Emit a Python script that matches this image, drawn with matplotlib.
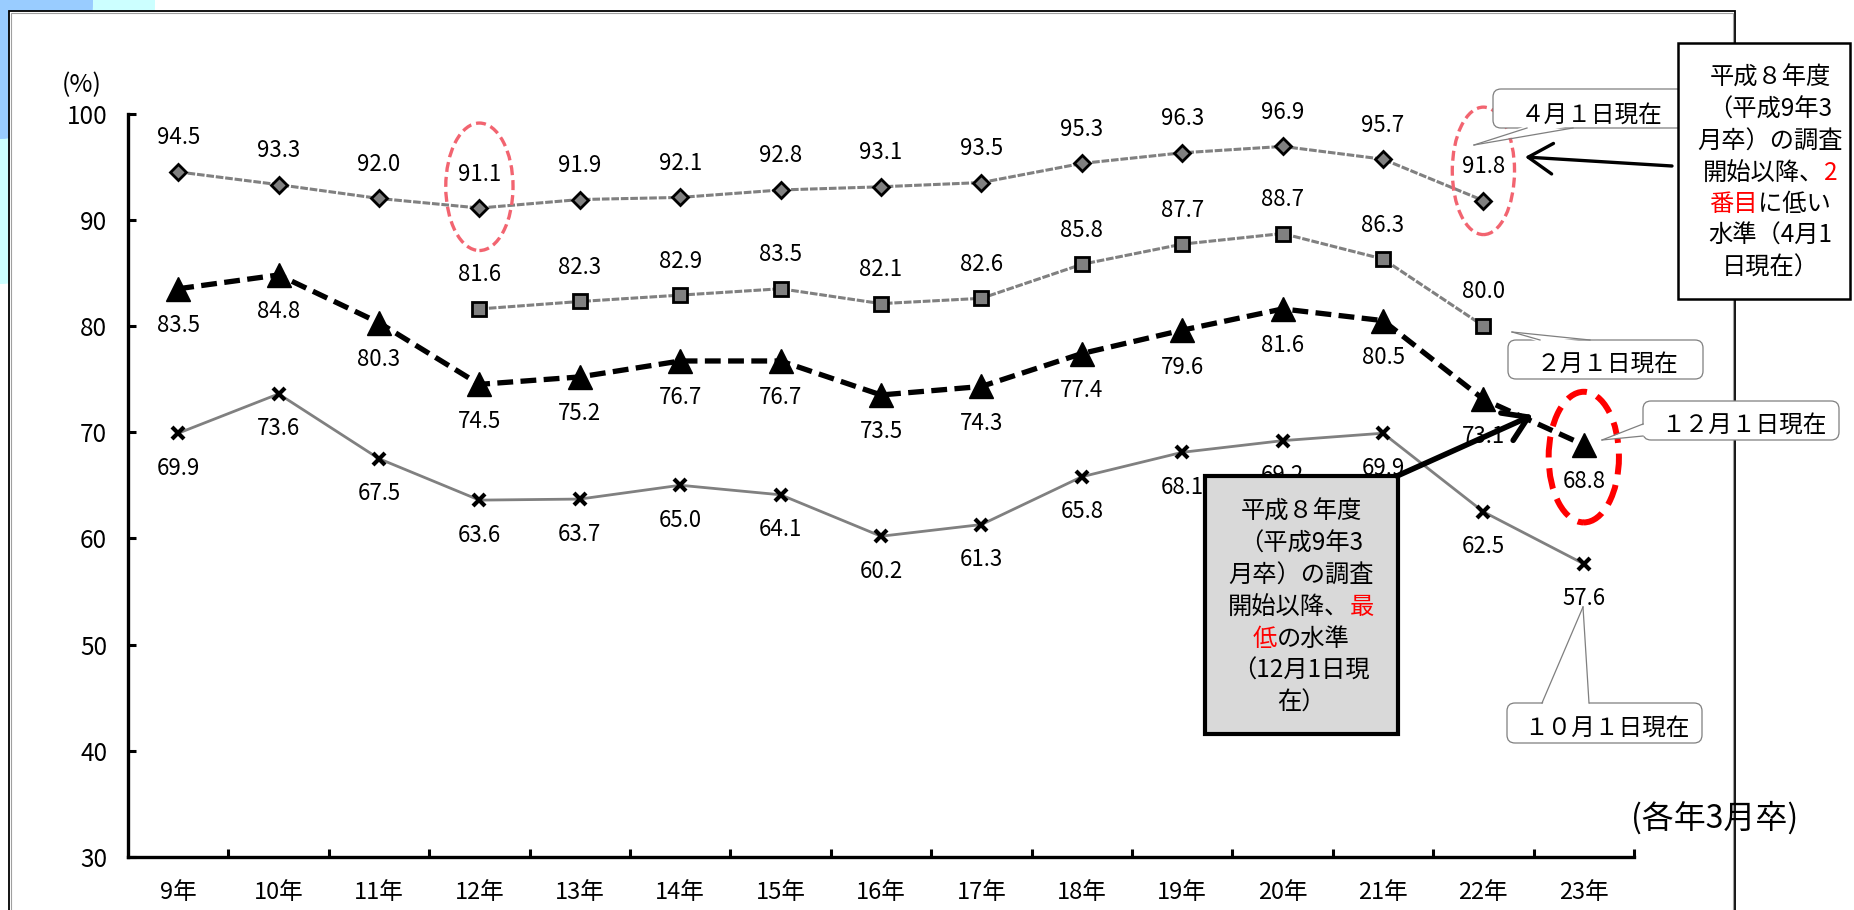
import matplotlib
matplotlib.use("Agg")
import matplotlib.pyplot as plt
from matplotlib.patches import Ellipse, Rectangle, FancyBboxPatch, Polygon, FancyArrowPatch
from matplotlib.lines import Line2D
from matplotlib.transforms import IdentityTransform
import numpy as np

plt.rcParams['font.family'] = ['Noto Sans CJK JP', 'DejaVu Sans']

# data (各年3月卒, 就職内定率 %)
years = ['9年', '10年', '11年', '12年', '13年', '14年', '15年', '16年',
         '17年', '18年', '19年', '20年', '21年', '22年', '23年']
apr1 = [94.5, 93.3, 92.0, 91.1, 91.9, 92.1, 92.8, 93.1, 93.5, 95.3, 96.3, 96.9, 95.7, 91.8]
feb1 = [81.6, 82.3, 82.9, 83.5, 82.1, 82.6, 85.8, 87.7, 88.7, 86.3, 80.0]   # 12年..22年
dec1 = [83.5, 84.8, 80.3, 74.5, 75.2, 76.7, 76.7, 73.5, 74.3, 77.4, 79.6, 81.6, 80.5, 73.1, 68.8]
oct1 = [69.9, 73.6, 67.5, 63.6, 63.7, 65.0, 64.1, 60.2, 61.3, 65.8, 68.1, 69.2, 69.9, 62.5, 57.6]
feb_start = 3

W, H = 1854, 910
PX = IdentityTransform()


def P(x, y):
    # pixel position measured from the top-left corner
    return (x, H - y)


fig = plt.figure(figsize=(W / 100, H / 100), dpi=100)

# slide decoration and frame
fig.add_artist(Ellipse(P(0, 0), 310, 568, fc='#CCFFFF', ec='none', transform=PX, zorder=-20))
fig.add_artist(Ellipse(P(0, 0), 186, 278, fc='#99CCFF', ec='none', transform=PX, zorder=-19))
fig.add_artist(Rectangle((9, -5), 1726, 904, fc='white', ec='black', lw=1.3, transform=PX, zorder=-18))
fig.add_artist(Rectangle((11, -5), 1722, 902, fc='none', ec='#A0A0A0', lw=0.8, transform=PX, zorder=-17))

ax = fig.add_axes([128 / W, 1 - 857 / H, 1506 / W, 743.5 / H])
ax.set_facecolor('none')

x = np.arange(len(years))
ax.plot(x, oct1, color='#808080', lw=2, marker='x', ms=9, mec='black', mew=3, zorder=3)
ax.plot(x, dec1, color='black', lw=3.8, dashes=(3, 1.4), marker='^', ms=17,
        mfc='black', mec='black', zorder=4)
xf = x[feb_start:feb_start + len(feb1)]
ax.plot(xf, feb1, color='#808080', lw=2.2, dashes=(2.5, 0.6), marker='s', ms=10,
        mfc='#808080', mec='black', mew=2, zorder=5)
ax.plot(x[:len(apr1)], apr1, color='#808080', lw=2.2, dashes=(2.5, 0.6), marker='D', ms=8,
        mfc='#808080', mec='black', mew=2, zorder=5)


def labels(xs, vals, off):
    for xi, v in zip(xs, vals):
        ax.annotate(f'{v:.1f}', (xi, v), xytext=(0, off), textcoords='offset pixels',
                    ha='center', va='center', fontsize=16, zorder=6)


labels(x[:len(apr1)], apr1, 34)
labels(xf, feb1, 34)
labels(x, dec1, -37)
labels(x, oct1, -35)

ax.set_xlim(-0.5, 14.5)
ax.set_ylim(30, 100)
for s in ['top', 'right']:
    ax.spines[s].set_visible(False)
for s in ['left', 'bottom']:
    ax.spines[s].set_linewidth(2.4)
ax.set_yticks(range(30, 101, 10))
ax.tick_params(axis='y', direction='in', length=6, width=2.2, labelsize=17.5, pad=15)
ax.set_xticks(np.arange(0.5, 14.6, 1))
ax.set_xticklabels([])
ax.set_xticks(x, minor=True)
ax.set_xticklabels(years, minor=True)
ax.tick_params(axis='x', which='major', direction='in', length=6, width=2.2)
ax.tick_params(axis='x', which='minor', length=0, labelsize=17, pad=17)

fig.text(*P(82, 85), '(%)', ha='center', va='center', fontsize=18, transform=PX)
fig.text(*P(1715, 818), '(各年3月卒)', ha='center', va='center', fontsize=23, transform=PX)

# dashed circles
ax.add_patch(Ellipse((3, 93.1), 0.67, 12.0, fill=False, ec='#F26470', lw=2.4,
                     ls=(0, (3, 1.5)), zorder=7, clip_on=False))
ax.add_patch(Ellipse((13, 94.6), 0.62, 12.0, fill=False, ec='#F26470', lw=2.4,
                     ls=(0, (3, 1.5)), zorder=7, clip_on=False))
ax.add_patch(Ellipse((14, 67.65), 0.70, 12.3, fill=False, ec='#FF0000', lw=4.3,
                     ls=(0, (3.5, 1.8)), zorder=7, clip_on=False))


def callout(x0, y0, x1, y1, b1, b2, tip, text, tx, ty, z=8):
    fig.add_artist(FancyBboxPatch(P(x0, y1), x1 - x0, y1 - y0,
                                  boxstyle='round,pad=0,rounding_size=8', fc='white',
                                  ec='#7F7F7F', lw=0.9, transform=PX, zorder=z))
    # white wedge that opens the box outline where the pointer leaves it
    inner = []
    for bx, by in (b1, b2):
        if by == y0:
            inner.append(P(bx, by + 2.5))
        elif by == y1:
            inner.append(P(bx, by - 2.5))
        elif bx == x0:
            inner.append(P(bx + 2.5, by))
        else:
            inner.append(P(bx - 2.5, by))
    fig.add_artist(Polygon([inner[0], P(*tip), inner[1]], closed=True, fc='white', ec='none',
                           transform=PX, zorder=z + 0.1))
    for b in (b1, b2):
        fig.add_artist(Line2D([P(*b)[0], P(*tip)[0]], [P(*b)[1], P(*tip)[1]], color='#7F7F7F',
                              lw=0.9, transform=PX, zorder=z + 0.2))
    fig.text(*P(tx, ty), text, ha='center', va='center', fontsize=17, transform=PX, zorder=z + 0.3)


callout(1493, 89, 1720, 128, (1527, 128), (1573, 128), (1474, 145), '４月１日現在', 1592, 115)
callout(1508, 340, 1703, 379, (1540, 340), (1590, 340), (1512, 332), '２月１日現在', 1607, 364)
callout(1643, 401, 1839, 440, (1643, 424), (1643, 436), (1602, 440), '１２月１日現在', 1744, 425)
callout(1507, 703, 1702, 743, (1542, 703), (1589, 703), (1583, 607), '１０月１日現在', 1607, 728)

renderer = fig.canvas.get_renderer()


def rich_lines(cx, cy0, step, lines, fs, z):
    for i, segs in enumerate(lines):
        texts = [fig.text(0, 0, s, color=c, fontsize=fs, ha='left', va='center',
                          transform=PX, zorder=z) for s, c in segs]
        widths = [t.get_window_extent(renderer).width for t in texts]
        xx = cx - sum(widths) / 2
        for t, w in zip(texts, widths):
            t.set_position((xx, H - (cy0 + i * step)))
            xx += w


K, R = 'black', '#FF0000'

# note box (4月1日現在)
fig.add_artist(Rectangle(P(1678, 299), 172, 256, fc='white', ec='black', lw=1.8,
                         transform=PX, zorder=9))
rich_lines(1770, 78, 31.6, [
    [('平成８年度', K)],
    [('（平成9年3', K)],
    [('月卒）の調査', K)],
    [('開始以降、', K), ('2', R)],
    [('番目', R), ('に低い', K)],
    [('水準（4月1', K)],
    [('日現在）', K)],
], 17.5, 9.5)

# note box (12月1日現在)
fig.add_artist(Rectangle(P(1205, 734), 193, 258, fc='#D9D9D9', ec='black', lw=3,
                         transform=PX, zorder=9))
rich_lines(1301, 512, 31.7, [
    [('平成８年度', K)],
    [('（平成9年3', K)],
    [('月卒）の調査', K)],
    [('開始以降、', K), ('最', R)],
    [('低', R), ('の水準', K)],
    [('（12月1日現', K)],
    [('在）', K)],
], 17.5, 9.5)

fig.add_artist(FancyArrowPatch(P(1672, 166), P(1525, 157), arrowstyle='->,head_length=0.8,head_width=0.5',
                               mutation_scale=22, lw=2.4, color='black', shrinkA=0, shrinkB=0,
                               transform=PX, zorder=10))
fig.add_artist(FancyArrowPatch(P(1397, 476), P(1533, 415), arrowstyle='->,head_length=0.7,head_width=0.45',
                               mutation_scale=24, lw=4, color='black', shrinkA=0, shrinkB=0,
                               transform=PX, zorder=10))

fig.savefig('out.png', dpi=100)
